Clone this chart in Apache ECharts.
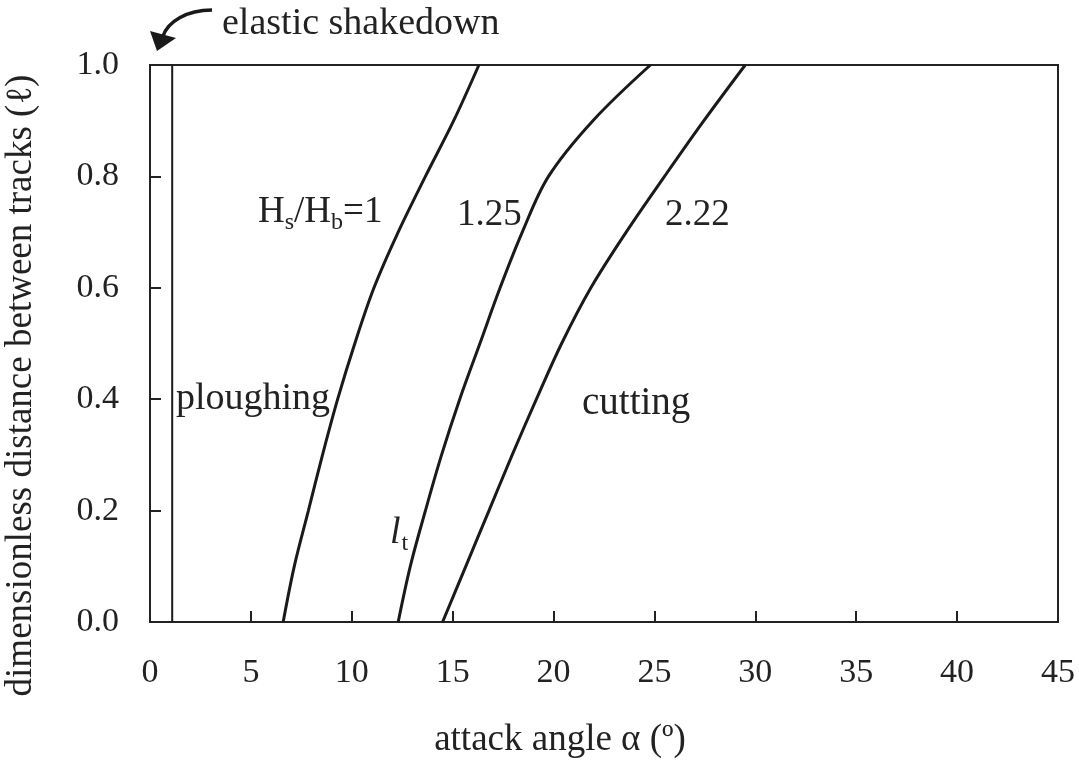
<!DOCTYPE html>
<html>
<head>
<meta charset="utf-8">
<script src="https://cdn.jsdelivr.net/npm/echarts@6/dist/echarts.min.js"></script>
<style>
  html, body { margin: 0; padding: 0; background: #fff; }
  #chart { width: 1079px; height: 760px; }
</style>
</head>
<body>
<div id="chart"></div>
<script>
// Dimensionless track spacing l at which each boundary was evaluated
const trackSpacing = [0, 0.1, 0.2, 0.3, 0.4, 0.5, 0.6, 0.7, 0.8, 0.9, 1.0];

// Critical attack angle (deg) for each hardness ratio Hs/Hb
const alphaRatio1    = [6.6, 7.15, 7.85, 8.55, 9.3, 10.15, 11.1, 12.3, 13.65, 15.05, 16.3];
const alphaRatio125  = [12.3, 12.9, 13.65, 14.45, 15.35, 16.35, 17.35, 18.45, 19.75, 21.95, 24.8];
const alphaRatio222  = [14.5, 15.65, 16.8, 17.95, 19.15, 20.4, 21.85, 23.6, 25.5, 27.45, 29.5];

// Elastic shakedown limit (vertical boundary)
const elasticAlpha = [1.1, 1.1];
const elasticSpacing = [0, 1];

// Axis ticks
const xTicks = [0, 5, 10, 15, 20, 25, 30, 35, 40, 45];
const yTicks = [0, 0.2, 0.4, 0.6, 0.8, 1.0];

const FONT = '"Liberation Serif", "Times New Roman", serif';
const INK = '#222';

function pairs(xs, ys) { return xs.map((x, i) => [x, ys[i]]); }

function boundary(name, alphas, spacing) {
  return {
    name: name,
    type: 'line',
    data: pairs(alphas, spacing),
    smooth: 0.35,
    showSymbol: false,
    lineStyle: { color: '#1a1a1a', width: 3 },
    silent: true
  };
}

const chart = echarts.init(document.getElementById('chart'), null, { renderer: 'canvas' });

chart.setOption({
  backgroundColor: '#fff',
  animation: false,
  grid: {
    left: 150, right: 21, top: 65, bottom: 138,
    outerBoundsMode: 'none',
    containLabel: false,
    show: true, borderColor: '#222', borderWidth: 2
  },
  xAxis: {
    type: 'value',
    min: xTicks[0], max: xTicks[xTicks.length - 1], interval: 5,
    name: 'attack angle α (º)',
    nameLocation: 'middle',
    nameGap: 100,
    nameTextStyle: { fontFamily: FONT, fontSize: 37, color: INK, padding: [0, 88, 0, 0] },
    axisLine: { show: true, lineStyle: { color: '#222', width: 2 } },
    axisTick: { show: true, inside: true, length: 11, lineStyle: { color: '#222', width: 2 } },
    axisLabel: { fontFamily: FONT, fontSize: 34, color: INK, margin: 34 },
    splitLine: { show: false }
  },
  yAxis: {
    type: 'value',
    min: yTicks[0], max: yTicks[yTicks.length - 1], interval: 0.2,
    name: 'dimensionless distance between tracks (ℓ)',
    nameLocation: 'middle',
    nameGap: 110,
    nameTextStyle: { fontFamily: FONT, fontSize: 37, color: INK, padding: [0, 84, 0, 0] },
    axisLine: { show: true, lineStyle: { color: '#222', width: 2 } },
    axisTick: { show: true, inside: true, length: 11, lineStyle: { color: '#222', width: 2 } },
    axisLabel: {
      fontFamily: FONT, fontSize: 34, color: INK, margin: 31,
      formatter: v => v.toFixed(1)
    },
    splitLine: { show: false }
  },
  series: [
    {
      name: 'elastic shakedown',
      type: 'line',
      data: pairs(elasticAlpha, elasticSpacing),
      showSymbol: false,
      lineStyle: { color: '#1a1a1a', width: 2 },
      silent: true
    },
    boundary('Hs/Hb=1', alphaRatio1, trackSpacing),
    boundary('Hs/Hb=1.25', alphaRatio125, trackSpacing),
    boundary('Hs/Hb=2.22', alphaRatio222, trackSpacing)
  ],
  graphic: [
    // "elastic shakedown" annotation with curved arrow
    {
      type: 'text', left: 222, top: 5,
      style: { text: 'elastic shakedown', font: '38px ' + FONT, fill: INK }
    },
    {
      type: 'bezierCurve',
      shape: { x1: 212, y1: 10, cpx1: 186, cpy1: 10, cpx2: 168, cpy2: 22, x2: 163, y2: 36 },
      style: { stroke: '#1a1a1a', lineWidth: 3.5, fill: null }
    },
    {
      type: 'polygon',
      shape: { points: [[150, 31], [176, 38], [157, 51]] },
      style: { fill: '#1a1a1a' }
    },
    // Curve labels
    {
      type: 'text', left: 258, top: 194,
      style: {
        text: '{n|H}{s|s}{n|/H}{s|b}{n|=1}',
        rich: {
          n: { font: '37px ' + FONT, fill: INK, lineHeight: 40, verticalAlign: 'bottom' },
          s: { font: '24px ' + FONT, fill: INK, lineHeight: 40, verticalAlign: 'bottom', padding: [0, 0, -4, 0] }
        }
      }
    },
    { type: 'text', left: 457, top: 197, style: { text: '1.25', font: '37px ' + FONT, fill: INK } },
    { type: 'text', left: 665, top: 197, style: { text: '2.22', font: '37px ' + FONT, fill: INK } },
    // Regime labels
    { type: 'text', left: 176, top: 380, style: { text: 'ploughing', font: '38px ' + FONT, fill: INK } },
    { type: 'text', left: 582, top: 384, style: { text: 'cutting', font: '39px ' + FONT, fill: INK } },
    {
      type: 'text', left: 390, top: 514,
      style: {
        text: '{l|l}{t|t}',
        rich: {
          l: { font: 'italic 38px ' + FONT, fill: INK, lineHeight: 40, verticalAlign: 'bottom' },
          t: { font: '24px ' + FONT, fill: INK, lineHeight: 40, verticalAlign: 'bottom', padding: [0, 0, -4, 1] }
        }
      }
    }
  ]
});
</script>
</body>
</html>
